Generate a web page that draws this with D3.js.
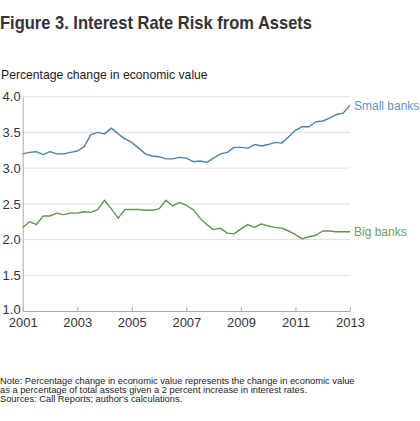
<!DOCTYPE html>
<html>
<head>
<meta charset="utf-8">
<script src="https://cdn.jsdelivr.net/npm/d3@7"></script>
<style>
  body { margin: 0; background: #fff; }
  svg text { font-family: "Liberation Sans", Arial, sans-serif; }
</style>
</head>
<body>
<svg id="chart" width="420" height="421"></svg>
<script>
// quarterly readings, 2001 Q1 .. 2013 Q1
const startYear = 2001;
const smallBanks = [3.20, 3.22, 3.23, 3.19, 3.23, 3.20, 3.20, 3.22, 3.24, 3.30,
    3.47, 3.50, 3.48, 3.56, 3.48, 3.41, 3.36, 3.28, 3.20, 3.17,
    3.16, 3.13, 3.13, 3.15, 3.14, 3.09, 3.10, 3.08, 3.14, 3.20,
    3.22, 3.29, 3.29, 3.28, 3.33, 3.31, 3.33, 3.36, 3.35, 3.44,
    3.53, 3.58, 3.58, 3.65, 3.66, 3.70, 3.75, 3.77, 3.88];
const bigBanks = [2.17, 2.25, 2.21, 2.33, 2.33, 2.37, 2.35, 2.37, 2.37, 2.39,
    2.38, 2.42, 2.55, 2.43, 2.30, 2.42, 2.42, 2.42, 2.41, 2.41,
    2.43, 2.55, 2.47, 2.52, 2.48, 2.42, 2.30, 2.21, 2.14, 2.16,
    2.09, 2.08, 2.15, 2.21, 2.17, 2.22, 2.19, 2.17, 2.16, 2.12,
    2.07, 2.01, 2.04, 2.06, 2.12, 2.12, 2.11, 2.11, 2.11];
const yTicks = [1.0, 1.5, 2.0, 2.5, 3.0, 3.5, 4.0];
const xTicks = [2001, 2003, 2005, 2007, 2009, 2011, 2013];
const noteLines = [
    "Note: Percentage change in economic value represents the change in economic value",
    "as a percentage of total assets given a 2 percent increase in interest rates.",
    "Sources: Call Reports; author's calculations."
];

const svg = d3.select("#chart");

const x = d3.scaleLinear().domain([2001, 2013]).range([22.7, 350]);
const y = d3.scaleLinear().domain([1, 4]).range([311, 96.7]);

// title (bold face squeezed to the reference width)
svg.append("text")
    .attr("x", 0).attr("y", 29)
    .attr("font-size", 19).attr("font-weight", "bold")
    .attr("fill", "#333")
    .attr("textLength", 312)
    .attr("lengthAdjust", "spacingAndGlyphs")
    .text("Figure 3. Interest Rate Risk from Assets");

svg.append("text")
    .attr("x", 1).attr("y", 79)
    .attr("font-size", 12.2).attr("fill", "#222")
    .text("Percentage change in economic value");

// gridlines
svg.append("g").selectAll("line")
    .data(yTicks.slice(1))
    .join("line")
    .attr("x1", x(2001)).attr("x2", x(2013))
    .attr("y1", d => y(d)).attr("y2", d => y(d))
    .attr("stroke", "#e0e0e0").attr("stroke-width", 1);

// y axis
const yAxis = svg.append("g")
    .attr("transform", `translate(${x(2001)},0)`)
    .call(d3.axisLeft(y).tickValues(yTicks).tickFormat(d3.format(".1f")).tickSize(0).tickPadding(2));
yAxis.select(".domain").attr("stroke", "#aaa");
yAxis.selectAll("text").attr("font-size", 13).attr("fill", "#333")
    .style("font-family", "'Liberation Sans', Arial, sans-serif");
// lift the bottom label a touch so it clears the year labels
yAxis.selectAll(".tick").filter(d => d === 1).select("text").attr("dy", "0.2em");

// x axis, ticks pointing up
const xAxis = svg.append("g")
    .attr("transform", `translate(0,${y(1)})`)
    .call(d3.axisBottom(x).tickValues(xTicks).tickFormat(d3.format("d")).tickSize(0).tickPadding(7));
xAxis.select(".domain").attr("stroke", "#aaa");
xAxis.selectAll("text").attr("font-size", 13).attr("fill", "#333")
    .style("font-family", "'Liberation Sans', Arial, sans-serif");
xAxis.selectAll(".tick").append("line")
    .attr("y1", 0).attr("y2", -4).attr("stroke", "#aaa");

// lines
const line = d3.line()
    .x((d, i) => x(startYear + i / 4))
    .y(d => y(d));

const series = [
    { name: "Small banks", values: smallBanks, color: "#4a82b0", label: "#5b95c3" },
    { name: "Big banks", values: bigBanks, color: "#5f9452", label: "#6aa05c" }
];

series.forEach(s => {
    svg.append("path")
        .datum(s.values)
        .attr("d", line)
        .attr("fill", "none")
        .attr("stroke", s.color)
        .attr("stroke-width", 1.4)
        .attr("stroke-linejoin", "round");

    let last = s.values[s.values.length - 1];
    svg.append("text")
        .attr("x", x(2013) + 4)
        .attr("y", y(last) + (s.name === "Small banks" ? 5 : 4))
        .attr("font-size", 12)
        .attr("fill", s.label)
        .text(s.name);
});

// notes
svg.append("g").selectAll("text")
    .data(noteLines)
    .join("text")
    .attr("x", 0)
    .attr("y", (d, i) => 384 + i * 9)
    .attr("font-size", 9.3)
    .attr("fill", "#222")
    .text(d => d);
</script>
</body>
</html>
